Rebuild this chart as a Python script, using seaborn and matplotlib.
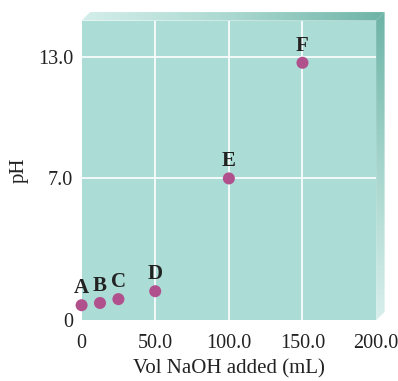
import numpy as np
import pandas as pd
import matplotlib.pyplot as plt
import seaborn as sns
from matplotlib.patches import Polygon

# titration points
labels = ["A", "B", "C", "D", "E", "F"]
vol_naoh = [0.0, 12.5, 25.0, 50.0, 100.0, 150.0]
ph = [0.75, 0.86, 1.05, 1.44, 7.0, 12.7]

x_ticks = [0, 50, 100, 150, 200]
x_ticklabels = ["0", "50.0", "100.0", "150.0", "200.0"]
y_ticks = [0, 7, 13]
y_ticklabels = ["0", "7.0", "13.0"]

panel = "#acdcd6"
dot = "#b0508c"
ink = "#222222"

sns.set_style("white", rc={"axes.facecolor": panel, "axes.edgecolor": panel})
plt.rcParams["font.family"] = ["Liberation Serif", "DejaVu Serif"]

fig = plt.figure(figsize=(3.98, 3.81), dpi=100)
L, B, W, H = 0.205, 0.159, 0.74, 0.787

# background axes for the faux 3D edges (figure coordinates)
bg = fig.add_axes([0, 0, 1, 1], zorder=0)
bg.axis("off")
dx, dy = 8.5 / 398, 8.5 / 381
top = Polygon([(L, B + H), (L + dx, B + H + dy), (L + W + dx, B + H + dy), (L + W, B + H)],
              closed=True, facecolor="none", edgecolor="none")
right = Polygon([(L + W, B + H), (L + W + dx, B + H + dy), (L + W + dx, B + dy), (L + W, B)],
                closed=True, facecolor="none", edgecolor="none")
bg.add_patch(top)
bg.add_patch(right)
cmap_top = sns.blend_palette(["#d4eeea", "#a9d8d0", "#6db3a6"], as_cmap=True)
cmap_right = sns.blend_palette(["#d8efec", "#a5d5cc", "#6db3a6"], as_cmap=True)
im1 = bg.imshow(np.linspace(0, 1, 256).reshape(1, -1), cmap=cmap_top, aspect="auto",
                extent=[L, L + W + dx, B + H, B + H + dy])
im1.set_clip_path(top)
im2 = bg.imshow(np.linspace(0, 1, 256).reshape(-1, 1), cmap=cmap_right, aspect="auto",
                origin="lower", extent=[L + W, L + W + dx, B, B + H + dy])
im2.set_clip_path(right)
bg.set_xlim(0, 1)
bg.set_ylim(0, 1)

ax = fig.add_axes([L, B, W, H], zorder=1)

df = pd.DataFrame({"label": labels, "vol": vol_naoh, "ph": ph})

# grid lines
for xv in x_ticks[1:-1]:
    ax.axvline(xv, color="white", lw=1.2, zorder=1)
for yv in y_ticks[1:]:
    ax.axhline(yv, color="white", lw=1.2, zorder=1)

sns.scatterplot(data=df, x="vol", y="ph", ax=ax, color=dot, s=75,
                edgecolor="none", zorder=3, clip_on=False)

for _, r in df.iterrows():
    ax.annotate(r["label"], (r["vol"], r["ph"]), xytext=(0, 5),
                textcoords="offset points", ha="center", va="bottom",
                fontsize=15, fontweight="bold", color=ink)

ax.set_xlim(0, 200)
ax.set_ylim(0, 14.78)
ax.set_xticks(x_ticks)
ax.set_xticklabels(x_ticklabels)
ax.set_yticks(y_ticks)
ax.set_yticklabels(y_ticklabels)
ax.tick_params(axis="both", length=0, labelsize=14.5, colors=ink)
ax.tick_params(axis="x", pad=10)
ax.tick_params(axis="y", pad=6)
ax.set_xlabel("Vol NaOH added (mL)", fontsize=15, color=ink, labelpad=4)
ax.set_ylabel("pH", fontsize=15, color=ink, labelpad=7)
for s in ax.spines.values():
    s.set_visible(False)

fig.savefig("out.png", dpi=100)
